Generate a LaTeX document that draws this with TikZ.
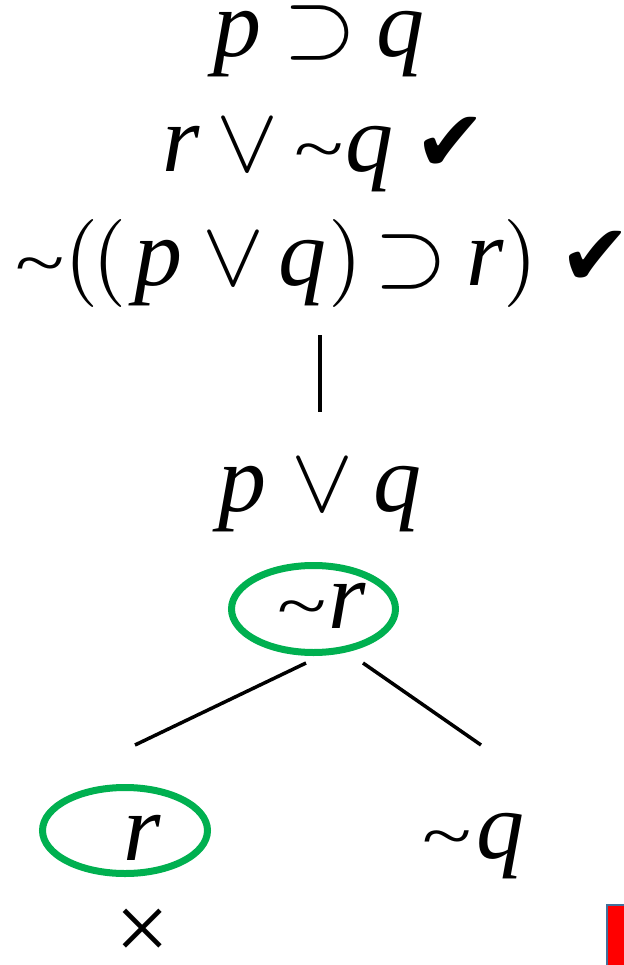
\documentclass[tikz,border=0pt]{standalone}
\usepackage{graphicx}
\usepackage{fontspec}
\setmainfont{Liberation Serif}
\newfontfamily\chkfont{DejaVu Sans}
\definecolor{okgreen}{HTML}{00B050}
\definecolor{boxred}{HTML}{FF0000}
\definecolor{boxedge}{HTML}{41719C}
\newcommand\gl[2]{\makebox[0pt][c]{#1}\hspace*{#2pt}}
\newcommand\Tl{\scalebox{0.95}[0.7]{\textasciitilde}}
\newcommand\Sp{\scalebox{9.4}{\fontsize{10}{12}\selectfont$\supset$}}
\newcommand\Or{\scalebox{9.3}{\fontsize{10}{12}\selectfont$\vee$}}
\newcommand\Lp{\scalebox{8.8}{\fontsize{10}{12}\selectfont$($}}
\newcommand\Rp{\scalebox{8.8}{\fontsize{10}{12}\selectfont$)$}}
\newcommand\Ck{{\chkfont\fontsize{86}{86}\selectfont ✔}}
\newcommand\Iv[1]{\textit{#1}}
\begin{document}
\begin{tikzpicture}[x=1pt,y=-1pt,
  txt/.style={inner sep=0pt, anchor=base west, font=\fontsize{96}{110}\selectfont},
  ring/.style={draw=okgreen, line width=7pt},
  branch/.style={draw=black, line width=3.5pt}]
\useasboundingbox (0,0) rectangle (623,965);
% premises
\node[txt, text height=44pt] (l1) at (237,57) {\gl{\Iv{p}}{83}\gl{\Sp}{80}\gl{\Iv{q}}{0}};
\node[txt] (l2) at (181,172) {\gl{\Iv{r}}{66}\gl{\Or}{72}\gl{\Tl}{50}\gl{\Iv{q}}{81}\gl{\Ck}{0}};
\node[txt] (l3) at (40,285) {\gl{\Tl}{41}\gl{\Lp}{28}\gl{\Lp}{49}\gl{\Iv{p}}{75}\gl{\Or}{69}\gl{\Iv{q}}{43}\gl{\Rp}{66}\gl{\Sp}{74}\gl{\Iv{r}}{35}\gl{\Rp}{75}\gl{\Ck}{0}};
% trunk
\coordinate (t1) at (320,335);
\coordinate (t2) at (320,412);
\draw[branch] (t1) -- (t2);
\node[txt] (l4) at (242,511) {\gl{\Iv{p}}{80}\gl{\Or}{75}\gl{\Iv{q}}{0}};
\node[txt] (l5) at (302,628) {\gl{\Tl}{45}\gl{\Iv{r}}{0}};
\draw[ring] (313.5,609) ellipse [x radius=82, y radius=43.5];
% branches
\coordinate (bl1) at (306,663);
\coordinate (bl2) at (135,745);
\coordinate (br1) at (363,663);
\coordinate (br2) at (481,745);
\draw[branch] (bl1) -- (bl2);
\draw[branch] (br1) -- (br2);
\node[txt] (l6) at (142,860) {\gl{\Iv{r}}{0}};
\draw[ring] (125,830.5) ellipse [x radius=82.5, y radius=43];
\node[txt] (l7) at (447,858) {\gl{\Tl}{53}\gl{\Iv{q}}{0}};
\node[txt, text depth=0pt] (cl) at (142,960) {\gl{×}{0}};
% red box at corner
\draw[boxedge, fill=boxred, line width=2pt] (607,905) rectangle (632,972);
\end{tikzpicture}
\end{document}
